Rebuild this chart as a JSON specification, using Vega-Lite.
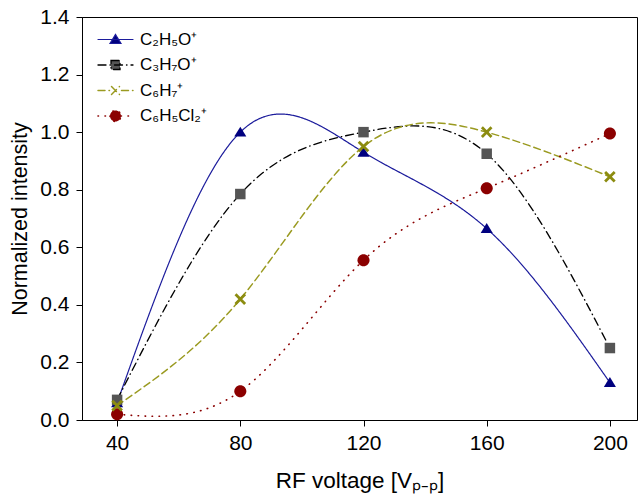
{
  "$schema": "https://vega.github.io/schema/vega-lite/v6.json",
  "width": 555,
  "height": 403,
  "autosize": "none",
  "padding": {"left": 82, "top": 17, "right": 2, "bottom": 76},
  "background": "white",
  "config": {
    "font": "Liberation Sans",
    "view": {"stroke": "black", "strokeWidth": 1},
    "axis": {"grid": false, "domainColor": "black", "tickColor": "black", "labelColor": "black", "titleColor": "black", "labelFont": "Liberation Sans", "titleFont": "Liberation Sans", "titleFontWeight": "normal"}
  },
  "data": {
    "values": [
      {"series": "C₂H₅O⁺", "v": 40, "y": 0.06},
      {"series": "C₂H₅O⁺", "v": 80, "y": 1.0},
      {"series": "C₂H₅O⁺", "v": 120, "y": 0.93},
      {"series": "C₂H₅O⁺", "v": 160, "y": 0.665},
      {"series": "C₂H₅O⁺", "v": 200, "y": 0.13},
      {"series": "C₃H₇O⁺", "v": 40, "y": 0.07},
      {"series": "C₃H₇O⁺", "v": 80, "y": 0.785},
      {"series": "C₃H₇O⁺", "v": 120, "y": 1.0},
      {"series": "C₃H₇O⁺", "v": 160, "y": 0.925},
      {"series": "C₃H₇O⁺", "v": 200, "y": 0.25},
      {"series": "C₆H₇⁺", "v": 40, "y": 0.05},
      {"series": "C₆H₇⁺", "v": 80, "y": 0.42},
      {"series": "C₆H₇⁺", "v": 120, "y": 0.95},
      {"series": "C₆H₇⁺", "v": 160, "y": 1.0},
      {"series": "C₆H₇⁺", "v": 200, "y": 0.845},
      {"series": "C₆H₅Cl₂⁺", "v": 40, "y": 0.02},
      {"series": "C₆H₅Cl₂⁺", "v": 80, "y": 0.1},
      {"series": "C₆H₅Cl₂⁺", "v": 120, "y": 0.555},
      {"series": "C₆H₅Cl₂⁺", "v": 160, "y": 0.805},
      {"series": "C₆H₅Cl₂⁺", "v": 200, "y": 0.995}
    ]
  },
  "encoding": {
    "x": {
      "field": "v", "type": "quantitative",
      "scale": {"domain": [28.6, 208.8], "nice": false, "zero": false},
      "axis": {"values": [40, 80, 120, 160, 200], "title": "RF voltage [Vₚ₋ₚ]", "labelFontSize": 21, "titleFontSize": 22.5, "tickSize": 6, "labelPadding": 6, "titlePadding": 16}
    },
    "y": {
      "field": "y", "type": "quantitative",
      "scale": {"domain": [0, 1.4], "nice": false},
      "axis": {"values": [0, 0.2, 0.4, 0.6, 0.8, 1.0, 1.2, 1.4], "format": ".1f", "title": "Normalized intensity", "labelFontSize": 21, "titleFontSize": 21.5, "tickSize": 6, "labelPadding": 7, "titlePadding": 8}
    }
  },
  "layer": [
    {
      "mark": {"type": "line", "interpolate": "natural", "strokeCap": "round"},
      "encoding": {
        "color": {
          "field": "series", "type": "nominal",
          "scale": {"domain": ["C₂H₅O⁺", "C₃H₇O⁺", "C₆H₇⁺", "C₆H₅Cl₂⁺"], "range": ["#1c1c9c", "#000000", "#9a9a20", "#8b0000"]},
          "legend": {
            "title": null, "orient": "none", "legendX": 25, "legendY": 14,
            "padding": 0, "symbolSize": 100, "labelFontSize": 17, "labelColor": "black", "labelOffset": 16, "rowPadding": 7.5,
            "labelFont": "Liberation Sans",
            "encode": {
              "symbols": {
                "update": {
                  "shape": [
                    {"test": "datum.value === 'C₂H₅O⁺'", "value": "M-3.5,0H3.5M0,-1L1.1,0.8H-1.1Z"},
                    {"test": "datum.value === 'C₃H₇O⁺'", "value": "M-3.5,0H3.5M-0.9,-0.9H0.9V0.9H-0.9Z"},
                    {"test": "datum.value === 'C₆H₇⁺'", "value": "M-3.5,0H-1.2M1.2,0H3.5M-0.8,-0.8L0.8,0.8M-0.8,0.8L0.8,-0.8"},
                    {"value": "M-3.5,0H-1.1M1.1,0H3.5M-1.1,0A1.1,1.1 0 1,0 1.1,0A1.1,1.1 0 1,0 -1.1,0Z"}
                  ],
                  "fill": [
                    {"test": "datum.value === 'C₂H₅O⁺'", "value": "#00007f"},
                    {"test": "datum.value === 'C₃H₇O⁺'", "value": "#555555"},
                    {"test": "datum.value === 'C₆H₇⁺'", "value": "transparent"},
                    {"value": "#8b0000"}
                  ],
                  "stroke": [
                    {"test": "datum.value === 'C₂H₅O⁺'", "value": "#1c1c9c"},
                    {"test": "datum.value === 'C₃H₇O⁺'", "value": "#222222"},
                    {"test": "datum.value === 'C₆H₇⁺'", "value": "#8c8c10"},
                    {"value": "#8b0000"}
                  ],
                  "strokeWidth": [
                    {"test": "datum.value === 'C₂H₅O⁺'", "value": 1.3},
                    {"test": "datum.value === 'C₃H₇O⁺'", "value": 1.8},
                    {"test": "datum.value === 'C₆H₇⁺'", "value": 2.6},
                    {"value": 4}
                  ],
                  "strokeCap": {"value": "round"},
                  "opacity": {"value": 1}
                }
              }
            }
          }
        },
        "strokeDash": {
          "field": "series", "type": "nominal",
          "scale": {"domain": ["C₂H₅O⁺", "C₃H₇O⁺", "C₆H₇⁺", "C₆H₅Cl₂⁺"], "range": [[1, 0], [8, 4, 0.5, 4], [7, 4], [0.5, 6.5]]},
          "legend": null
        },
        "strokeWidth": {
          "field": "series", "type": "nominal",
          "scale": {"domain": ["C₂H₅O⁺", "C₃H₇O⁺", "C₆H₇⁺", "C₆H₅Cl₂⁺"], "range": [1.2, 1.6, 1.3, 4.2]},
          "legend": null
        }
      }
    },
    {
      "transform": [{"filter": "datum.series !== 'C₆H₇⁺'"}],
      "mark": {"type": "point", "filled": true, "opacity": 1, "size": 110},
      "encoding": {
        "fill": {
          "field": "series", "type": "nominal",
          "scale": {"domain": ["C₂H₅O⁺", "C₃H₇O⁺", "C₆H₅Cl₂⁺"], "range": ["#00007f", "#555555", "#8b0000"]},
          "legend": null
        },
        "shape": {
          "field": "series", "type": "nominal",
          "scale": {"domain": ["C₂H₅O⁺", "C₃H₇O⁺", "C₆H₅Cl₂⁺"], "range": ["M0,-1.05L1.15,0.85H-1.15Z", "M-1,-1H1V1H-1Z", "M-1.15,0A1.15,1.15 0 1,0 1.15,0A1.15,1.15 0 1,0 -1.15,0Z"]},
          "legend": null
        }
      }
    },
    {
      "transform": [{"filter": "datum.series === 'C₆H₇⁺'"}],
      "mark": {"type": "point", "filled": false, "opacity": 1, "size": 144, "strokeWidth": 2.8, "stroke": "#8c8c10", "shape": "M-0.8,-0.8L0.8,0.8M-0.8,0.8L0.8,-0.8"}
    }
  ]
}
